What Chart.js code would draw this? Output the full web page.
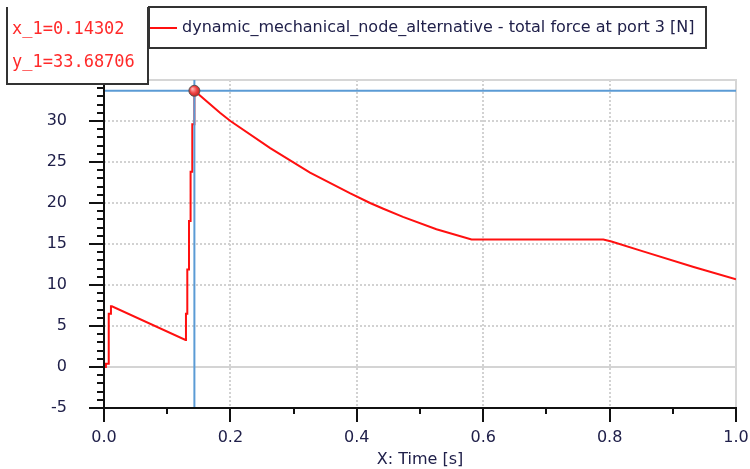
<!DOCTYPE html>
<html>
<head>
<meta charset="utf-8">
<script src="https://cdn.jsdelivr.net/npm/chart.js@4/dist/chart.umd.min.js"></script>
<style>
  html, body { margin: 0; padding: 0; background: #ffffff; }
  #wrap { width: 750px; height: 469px; position: relative; }
</style>
</head>
<body>
<div id="wrap"><canvas id="c" width="750" height="469"></canvas></div>
<script>
// ---- data ----
const seriesLabel = 'dynamic_mechanical_node_alternative - total force at port 3 [N]';
const xTitle = 'X: Time [s]';
const times  = [0, 0, 0.003, 0.003, 0.0065, 0.0075, 0.011, 0.011, 0.0125, 0.129, 0.1297, 0.1297, 0.1318, 0.1318, 0.1345, 0.1345, 0.137, 0.137, 0.1397, 0.1397, 0.1425, 0.14302, 0.1835, 0.2, 0.263, 0.326, 0.389, 0.421, 0.442, 0.473, 0.526, 0.5816, 0.79, 0.803, 0.853, 0.933, 1.0];
const forces = [-1.2, 0, 0, 0.4, 0.4, 6.5, 6.5, 7.4, 7.4, 3.3, 3.3, 6.5, 6.5, 11.9, 11.9, 17.8, 17.8, 23.8, 23.8, 29.6, 29.6, 33.68706, 31.0, 30.0, 26.7, 23.7, 21.2, 20.0, 19.3, 18.3, 16.8, 15.55, 15.55, 15.3, 14.1, 12.2, 10.7];
const xTickValues = [0, 0.2, 0.4, 0.6, 0.8, 1.0];
const xTickLabels = ['0.0', '0.2', '0.4', '0.6', '0.8', '1.0'];
const yTickValues = [-5, 0, 5, 10, 15, 20, 25, 30, 35];
const yTickLabels = ['-5', '0', '5', '10', '15', '20', '25', '30', '35'];
const cursorX = 0.14302;
const cursorY = 33.68706;
const cursorXText = 'x_1=0.14302';
const cursorYText = 'y_1=33.68706';

// ---- styles ----
const TXT = '#20204a';
const FONT_FAMILY = '"DejaVu Sans", sans-serif';
const RED = '#ff1010';
const BLUE = '#5b9bd5';

const points = times.map((t, i) => ({ x: t, y: forces[i] }));

const overlay = {
  id: 'overlay',
  beforeDatasetsDraw(chart) {
    const { ctx, chartArea: a, scales: { x, y } } = chart;
    ctx.save();
    // dotted grid
    ctx.strokeStyle = '#d2d2d2';
    ctx.lineWidth = 2;
    ctx.setLineDash([2, 2]);
    xTickValues.forEach(v => {
      if (v <= x.min || v >= x.max) return;
      const px = Math.round(x.getPixelForValue(v));
      ctx.beginPath(); ctx.moveTo(px, a.top); ctx.lineTo(px, a.bottom); ctx.stroke();
    });
    yTickValues.forEach(v => {
      if (v <= y.min || v >= y.max || v === 0) return;
      const py = Math.round(y.getPixelForValue(v));
      ctx.beginPath(); ctx.moveTo(a.left, py); ctx.lineTo(a.right, py); ctx.stroke();
    });
    ctx.setLineDash([]);
    // zero line
    ctx.strokeStyle = '#d4d4d4';
    const p0 = Math.round(y.getPixelForValue(0));
    ctx.beginPath(); ctx.moveTo(a.left, p0); ctx.lineTo(a.right, p0); ctx.stroke();
    // top & right frame
    ctx.strokeStyle = '#d6d6d6';
    ctx.beginPath();
    ctx.moveTo(a.left, a.top); ctx.lineTo(a.right, a.top); ctx.lineTo(a.right, a.bottom);
    ctx.stroke();
    ctx.restore();
  },
  afterDatasetsDraw(chart) {
    const { ctx, chartArea: a, scales: { x, y } } = chart;
    ctx.save();
    // cursor crosshair
    const cx = x.getPixelForValue(cursorX);
    const cy = y.getPixelForValue(cursorY);
    ctx.strokeStyle = BLUE;
    ctx.lineWidth = 2;
    ctx.beginPath(); ctx.moveTo(cx, a.top); ctx.lineTo(cx, a.bottom); ctx.stroke();
    ctx.beginPath(); ctx.moveTo(a.left, cy); ctx.lineTo(a.right, cy); ctx.stroke();
    // axes
    ctx.strokeStyle = '#111111';
    ctx.lineWidth = 2;
    ctx.beginPath();
    ctx.moveTo(a.left, a.top); ctx.lineTo(a.left, a.bottom + 1); ctx.stroke();
    ctx.beginPath();
    ctx.moveTo(a.left - 15, a.bottom); ctx.lineTo(a.right + 1, a.bottom); ctx.stroke();
    // y ticks (major + minor every 1)
    for (let v = y.min; v <= y.max + 1e-9; v += 1) {
      const py = Math.round(y.getPixelForValue(v));
      const len = (Math.round(v) % 5 === 0) ? 15 : 7;
      ctx.beginPath(); ctx.moveTo(a.left, py); ctx.lineTo(a.left - len, py); ctx.stroke();
    }
    // x ticks (major + minor every 0.1)
    for (let i = 0; i <= 10; i++) {
      const v = x.min + i * (x.max - x.min) / 10;
      const px = Math.round(x.getPixelForValue(v));
      const len = (i % 2 === 0) ? 14 : 6;
      ctx.beginPath(); ctx.moveTo(px, a.bottom); ctx.lineTo(px, a.bottom + len); ctx.stroke();
    }
    // cursor marker
    const g = ctx.createRadialGradient(cx - 2, cy - 2, 0.5, cx, cy, 6);
    g.addColorStop(0, '#ffb0b0');
    g.addColorStop(0.5, '#f04a4a');
    g.addColorStop(1, '#c01818');
    ctx.fillStyle = g;
    ctx.strokeStyle = '#555555';
    ctx.lineWidth = 1;
    ctx.beginPath(); ctx.arc(cx, cy, 5.5, 0, Math.PI * 2); ctx.fill(); ctx.stroke();
    ctx.restore();
  },
  afterDraw(chart) {
    const { ctx } = chart;
    ctx.save();
    // legend box
    ctx.fillStyle = '#ffffff';
    ctx.fillRect(149, 7, 557, 41);
    ctx.strokeStyle = '#333333';
    ctx.lineWidth = 2;
    ctx.strokeRect(149, 7, 557, 41);
    const ds = chart.data.datasets[0];
    ctx.strokeStyle = ds.borderColor;
    ctx.lineWidth = 2;
    ctx.beginPath(); ctx.moveTo(150, 28); ctx.lineTo(177, 28); ctx.stroke();
    ctx.fillStyle = TXT;
    ctx.font = '16px ' + FONT_FAMILY;
    ctx.textBaseline = 'middle';
    ctx.textAlign = 'left';
    ctx.fillText(ds.label, 182, 28);
    // cursor value box
    ctx.fillStyle = '#ffffff';
    ctx.fillRect(7, 0, 141, 84);
    ctx.strokeStyle = '#333333';
    ctx.lineWidth = 2;
    ctx.beginPath();
    ctx.moveTo(7, 7); ctx.lineTo(7, 84); ctx.lineTo(148, 84); ctx.lineTo(148, 7);
    ctx.stroke();
    ctx.fillStyle = '#ff2a2a';
    ctx.font = '17px "DejaVu Sans Mono", monospace';
    ctx.fillText(cursorXText, 12, 29.5);
    ctx.fillText(cursorYText, 12, 62.5);
    ctx.restore();
  }
};

new Chart(document.getElementById('c'), {
  type: 'line',
  data: {
    datasets: [{
      label: seriesLabel,
      data: points,
      borderColor: RED,
      borderWidth: 2,
      pointRadius: 0,
      tension: 0,
      fill: false
    }]
  },
  options: {
    responsive: false,
    animation: false,
    devicePixelRatio: 1,
    layout: { padding: { top: 80, right: 14, bottom: 0, left: 0 } },
    plugins: { legend: { display: false }, tooltip: { enabled: false } },
    scales: {
      x: {
        type: 'linear',
        min: 0, max: 1,
        afterBuildTicks: s => { s.ticks = xTickValues.map(v => ({ value: v })); },
        afterFit: s => { s.height = 61; s.paddingLeft = 0; s.paddingRight = 0; },
        grid: { display: false },
        border: { display: false },
        ticks: {
          padding: 12,
          maxRotation: 0,
          autoSkip: false,
          color: TXT,
          font: { family: FONT_FAMILY, size: 16 },
          callback: (v) => xTickLabels[xTickValues.findIndex(t => Math.abs(t - v) < 1e-9)]
        },
        title: {
          display: true,
          text: xTitle,
          color: TXT,
          font: { family: FONT_FAMILY, size: 16 },
          padding: { top: 0, bottom: 0 }
        }
      },
      y: {
        type: 'linear',
        min: -5, max: 35,
        afterBuildTicks: s => { s.ticks = yTickValues.map(v => ({ value: v })); },
        afterFit: s => { s.width = 104; s.paddingTop = 0; s.paddingBottom = 0; },
        grid: { display: false },
        border: { display: false },
        ticks: {
          padding: 29,
          color: TXT,
          font: { family: FONT_FAMILY, size: 16 },
          callback: (v) => yTickLabels[yTickValues.indexOf(v)]
        }
      }
    }
  },
  plugins: [overlay]
});
</script>
</body>
</html>
